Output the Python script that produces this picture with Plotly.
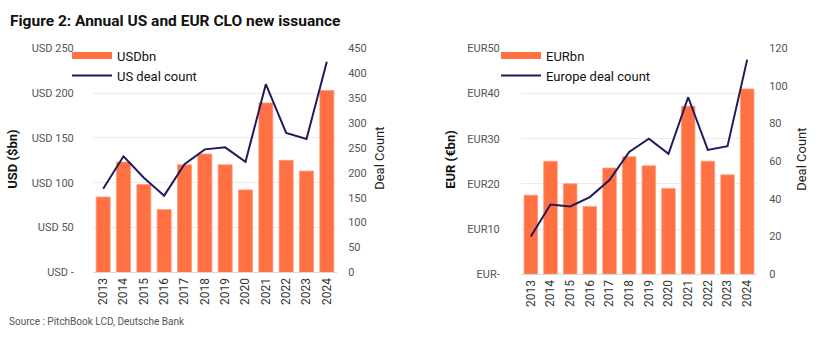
import plotly.graph_objects as go

years = ["2013", "2014", "2015", "2016", "2017", "2018", "2019", "2020", "2021", "2022", "2023", "2024"]
us_bn = [84, 123, 98, 70, 120, 132, 120, 92, 189, 125, 113, 203]
us_deals = [168, 233, 190, 154, 217, 247, 251, 222, 378, 280, 268, 423]
eur_bn = [17.5, 25, 20, 15, 23.5, 26, 24, 19, 37.2, 25, 22, 41]
eur_deals = [20, 37, 36, 41, 50, 65, 72, 64, 94, 66, 68, 114]

us_ticks = [0, 50, 100, 150, 200, 250]
us_ticktext = ["USD -", "USD 50", "USD 100", "USD 150", "USD 200", "USD 250"]
eur_ticks = [0, 10, 20, 30, 40, 50]
eur_ticktext = ["EUR-", "EUR10", "EUR20", "EUR30", "EUR40", "EUR50"]
us_deal_ticks = list(range(0, 451, 50))
eur_deal_ticks = list(range(0, 121, 20))

ORANGE = "#FF7043"
NAVY = "#1F1C5C"
FONT = "Roboto"
W, H = 830, 337

fig = go.Figure()
fig.add_trace(go.Bar(x=years, y=us_bn, name="USDbn", marker=dict(color=ORANGE, line=dict(color="#FF9A78", width=0.8)),
                     xaxis="x", yaxis="y", showlegend=False))
# legend key drawn as a wide flat bar like the reference
fig.add_trace(go.Scatter(x=[None], y=[None], name="USDbn", mode="lines", line=dict(color=ORANGE, width=7),
                         xaxis="x", yaxis="y", legend="legend"))
fig.add_trace(go.Scatter(x=years, y=us_deals, name="US deal count", mode="lines", line=dict(color=NAVY, width=2),
                         xaxis="x", yaxis="y2", legend="legend"))
fig.add_trace(go.Bar(x=years, y=eur_bn, name="EURbn", marker=dict(color=ORANGE, line=dict(color="#FF9A78", width=0.8)),
                     xaxis="x2", yaxis="y3", showlegend=False))
fig.add_trace(go.Scatter(x=[None], y=[None], name="EURbn", mode="lines", line=dict(color=ORANGE, width=7),
                         xaxis="x2", yaxis="y3", legend="legend2"))
fig.add_trace(go.Scatter(x=years, y=eur_deals, name="Europe deal count", mode="lines", line=dict(color=NAVY, width=2),
                         xaxis="x2", yaxis="y4", legend="legend2"))

def px(x):
    return x / W

def py(y):
    return 1 - y / H

tickfont = dict(family=FONT, size=11, color="#555555")
xtickfont = dict(family=FONT, size=12, color="#333333")

fig.update_layout(
    width=W, height=H, margin=dict(l=0, r=0, t=0, b=0),
    paper_bgcolor="white", plot_bgcolor="white",
    bargap=0.31,
    font=dict(family=FONT, color="#222222"),
    xaxis=dict(domain=[px(93), px(337)], anchor="y", tickangle=-90, tickfont=xtickfont,
               showline=True, linecolor="#D9D9D9", ticks="", showgrid=False),
    yaxis=dict(domain=[py(277), py(44)], anchor="x", range=[0, 250], tickvals=us_ticks, ticktext=us_ticktext,
               tickfont=tickfont, showgrid=True, gridcolor="#EBEBEB", zeroline=False,
               ticks="outside", ticklen=16, tickcolor="rgba(0,0,0,0)"),
    yaxis2=dict(overlaying="y", side="right", anchor="x", range=[0, 450], tickvals=us_deal_ticks,
                tickfont=tickfont, showgrid=False, zeroline=False,
                ticks="outside", ticklen=8, tickcolor="rgba(0,0,0,0)"),
    xaxis2=dict(domain=[px(521), px(757)], anchor="y3", tickangle=-90, tickfont=xtickfont,
                showline=True, linecolor="#D9D9D9", ticks="", showgrid=False),
    yaxis3=dict(domain=[py(279), py(44)], anchor="x2", range=[0, 50], tickvals=eur_ticks, ticktext=eur_ticktext,
                tickfont=tickfont, showgrid=True, gridcolor="#EBEBEB", zeroline=False,
                ticks="outside", ticklen=18, tickcolor="rgba(0,0,0,0)"),
    yaxis4=dict(overlaying="y3", side="right", anchor="x2", range=[0, 120], tickvals=eur_deal_ticks,
                tickfont=tickfont, showgrid=False, zeroline=False,
                ticks="outside", ticklen=9, tickcolor="rgba(0,0,0,0)"),
    legend=dict(x=px(67), y=py(36), xanchor="left", yanchor="top", bgcolor="rgba(0,0,0,0)",
                font=dict(family=FONT, size=13, color="#111111"), itemwidth=40, tracegroupgap=0),
    legend2=dict(x=px(496), y=py(36), xanchor="left", yanchor="top", bgcolor="rgba(0,0,0,0)",
                 font=dict(family=FONT, size=13, color="#111111"), itemwidth=40, tracegroupgap=0),
    annotations=[
        dict(text="<b>Figure 2: Annual US and EUR CLO new issuance</b>", x=px(8), y=py(16), xref="paper", yref="paper",
             xanchor="left", yanchor="middle", showarrow=False, font=dict(family=FONT, size=15.5, color="#111111")),
        dict(text="Source : PitchBook LCD, Deutsche Bank", x=px(7), y=py(328), xref="paper", yref="paper",
             xanchor="left", yanchor="middle", showarrow=False, font=dict(family=FONT, size=10, color="#555555")),
        dict(text="<b>USD ($bn)</b>", x=px(13), y=py(160), xref="paper", yref="paper", textangle=-90,
             xanchor="center", yanchor="middle", showarrow=False, font=dict(family=FONT, size=13, color="#111111")),
        dict(text="Deal Count", x=px(380), y=py(159), xref="paper", yref="paper", textangle=-90,
             xanchor="center", yanchor="middle", showarrow=False, font=dict(family=FONT, size=13, color="#222222")),
        dict(text="<b>EUR (€bn)</b>", x=px(451), y=py(160), xref="paper", yref="paper", textangle=-90,
             xanchor="center", yanchor="middle", showarrow=False, font=dict(family=FONT, size=13, color="#111111")),
        dict(text="Deal Count", x=px(802), y=py(160), xref="paper", yref="paper", textangle=-90,
             xanchor="center", yanchor="middle", showarrow=False, font=dict(family=FONT, size=13, color="#222222")),
    ],
)

fig.write_html("out.html")
